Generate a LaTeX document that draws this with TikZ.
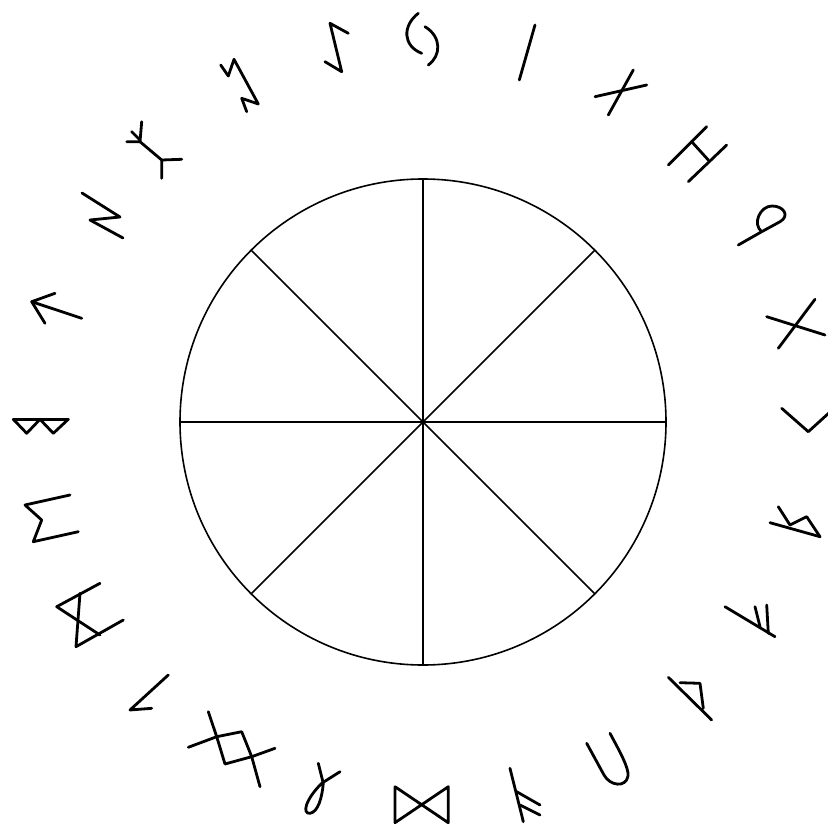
\documentclass[tikz,border=0pt]{standalone}
\begin{document}
\begin{tikzpicture}[x=1pt,y=-1pt,
  wheel/.style={line width=1.6pt,black},
  rune/.style={line width=2.8pt,black,line cap=round,line join=round}]
\useasboundingbox (0,0) rectangle (828,827);
\coordinate (c) at (423,422);
% wheel
\draw[wheel] (c) circle[radius=243];
\foreach \a in {0,45,...,315} \draw[wheel] (c) -- ++(\a:243);
% runes, clockwise from the top
% loop rune
\draw[rune] (418.3,13.3) .. controls (402,26) and (403,46) .. (421.7,53.3);
\draw[rune] (425,26.7) .. controls (442,37) and (441,56) .. (428.3,65);
% isa
\draw[rune] (535,25) -- (519.3,80);
% gebo-like
\draw[rune] (633.3,70) -- (608.3,115);
\draw[rune] (595,96.7) -- (646.7,85);
% hagal
\draw[rune] (706.7,126.7) -- (668.3,165);
\draw[rune] (726.7,145) -- (688.3,181.7);
\draw[rune] (691.7,141.7) -- (708.3,160);
% wynn-like loop
\draw[rune] (738.3,245) -- (761.7,231.7) .. controls (752,224) and (760,206) .. (772,206)
  .. controls (784,206) and (790,216) .. (780,221.7) -- (761.7,231.7);
% cross
\draw[rune] (815,299.3) -- (778.3,348.3);
\draw[rune] (766.7,316.7) -- (825,335);
% kaun
\draw[rune] (781.7,408.3) -- (808.3,431.7) -- (830,412);
% raido-like
\draw[rune] (770,522.7) -- (820,536.7);
\draw[rune] (778.3,506.7) -- (790,525) -- (806.7,516.7) -- (820,536.7);
% fehu-like
\draw[rune] (725,606.7) -- (775,636.7);
\draw[rune] (755,606.7) -- (760,626.7);
\draw[rune] (766.7,605) -- (768.3,633.3);
% thurs
\draw[rune] (668.3,677.3) -- (711.7,720);
\draw[rune] (680,682.7) -- (700,683.3) -- (703.3,708.3);
% ur
\draw[rune] (586.7,743.3) -- (604,775) .. controls (610,786) and (626,788) .. (628,776)
  .. controls (629,768) and (620,752) .. (610,733.3);
% ansuz-like
\draw[rune] (510,768.3) -- (523.3,821.7);
\draw[rune] (516.7,791.7) -- (540,805);
\draw[rune] (520,805) -- (540,815);
% dagaz
\draw[rune] (395,786.7) -- (395,822.7) -- (448.3,786.7) -- (448.3,822.7) -- (395,786.7);
% loop
\draw[rune] (318.3,763.3) -- (323.3,783.3) .. controls (322,798) and (318,812) .. (310,813.3)
  .. controls (302,814) and (305,800) .. (321.7,783.3) -- (340,771.7);
% ing square
\draw[rune] (216.7,736.7) -- (241.7,731.7) -- (251.7,756.7) -- (225,764) -- cycle;
\draw[rune] (208.3,711.7) -- (216.7,736.7) -- (188.3,747.3);
\draw[rune] (260,786.7) -- (251.7,756.7) -- (275,748.3);
% small angle
\draw[rune] (168.3,675) -- (130,710) -- (151.7,708.3);
% hourglass
\draw[rune] (100,583.3) -- (56.7,606.7) -- (100,635);
\draw[rune] (80,593.3) -- (76,646.7) -- (123.3,620);
% sigma
\draw[rune] (70,495) -- (25,505) -- (41.7,520) -- (33.3,541.7) -- (78.3,531.7);
% double triangles
\draw[rune] (13.3,419.3) -- (68.3,419.3);
\draw[rune] (13.3,419.3) -- (26.7,433.3) -- (40,419.3) -- (53.3,433.3) -- (68.3,419.3);
% arrow
\draw[rune] (81.7,318.3) -- (31.7,301.7) -- (55,293.3);
\draw[rune] (31.7,301.7) -- (45,323.3);
% N
\draw[rune] (82,193) -- (120,217) -- (90,220) -- (123,238);
% yr double
\draw[rune] (140,141.7) -- (161.7,160);
\draw[rune] (141.7,121.7) -- (140,141.7) -- (126.7,141.7);
\draw[rune] (131.7,131.7) -- (140,140);
\draw[rune] (161.7,178.3) -- (161.7,160) -- (181.7,159.3);
% sowilo-like
\draw[rune] (220.7,65) -- (228.3,76) -- (234,59.3) -- (258.3,104) -- (241.7,98.3) -- (246.7,111.7);
% sigma top
\draw[rune] (348.3,33.3) -- (330,23.3) -- (341.7,71.7) -- (325,61.7);
\end{tikzpicture}
\end{document}
